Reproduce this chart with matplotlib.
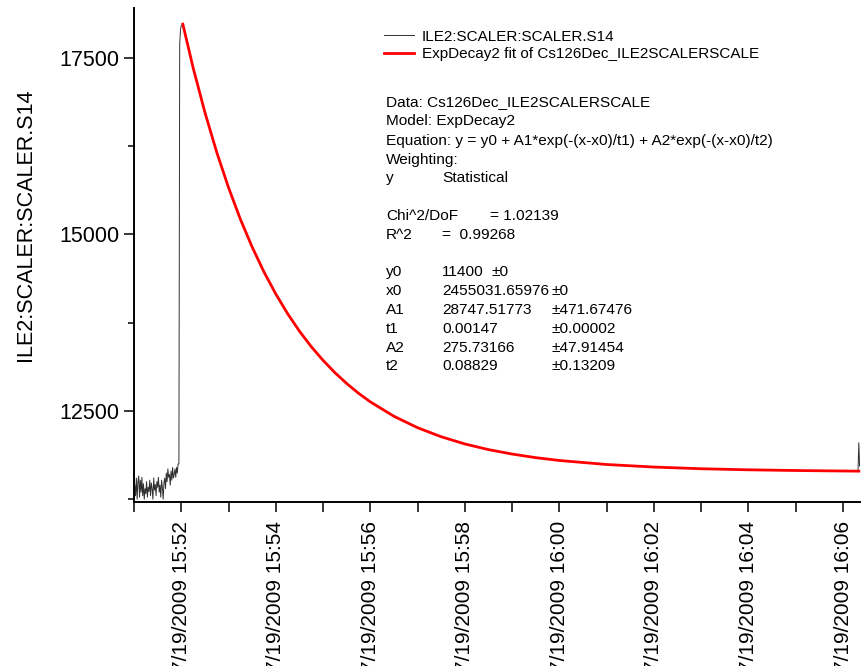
"""
Cs126 decay scaler trace with the ExpDecay2 fit overlaid
"""
import datetime as dt

import matplotlib
matplotlib.use('Agg')
import matplotlib.pyplot as plt
import matplotlib.dates as mdates
from matplotlib.ticker import FuncFormatter, FixedLocator

plt.rcParams['font.family'] = ['Liberation Sans', 'DejaVu Sans']

T0 = dt.datetime(2009, 7, 19, 15, 51, 0)

# raw scaler counts before the beam-on step, one reading per second from 15:51:01
noise_counts = [11450, 11300, 11550, 11250, 11500, 11580, 11280, 11520, 11350, 11560,
                11300, 11470, 11250, 11400, 11330, 11500, 11280, 11420, 11360, 11520,
                11300, 11480, 11400, 11250, 11550, 11380, 11460, 11300, 11500, 11420,
                11560, 11350, 11450, 11280, 11520, 11420, 11250, 11480, 11550, 11400,
                11620, 11500, 11680, 11560, 11600, 11450, 11650, 11520, 11700, 11550,
                11600, 11680, 11560, 11700, 11620, 11750]
# step up to the peak (seconds after 15:51:00)
step_sec = [57, 58, 59, 60]
step_counts = [11750, 17700, 17900, 17960]

# fit curve (seconds after 15:52:00)
fit_sec = [2, 15, 30, 45, 60, 75, 90, 105, 120, 135, 150, 165, 180, 195, 210, 225, 240,
           270, 300, 330, 360, 390, 420, 450, 480, 540, 600, 660, 720, 780, 840, 860]
fit_counts = [17979, 17364, 16729, 16165, 15664, 15217, 14822, 14469, 14157, 13878,
              13631, 13411, 13217, 13043, 12889, 12751, 12629, 12425, 12263, 12135,
              12033, 11953, 11890, 11839, 11799, 11742, 11706, 11682, 11667, 11657,
              11650, 11648]

# small jump right at the end of the record (seconds after 16:06:00)
tail_sec = [19, 20, 21]
tail_counts = [11648, 12050, 11720]

legend_labels = ['ILE2:SCALER:SCALER.S14', 'ExpDecay2 fit of Cs126Dec_ILE2SCALERSCALE']
ylabel = 'ILE2:SCALER:SCALER.S14'

info_lines = [
    (102, [(386, 'Data: Cs126Dec_ILE2SCALERSCALE')]),
    (121, [(386, 'Model: ExpDecay2')]),
    (141, [(386, 'Equation: y = y0 + A1*exp(-(x-x0)/t1) + A2*exp(-(x-x0)/t2)')]),
    (160, [(386, 'Weighting:')]),
    (178, [(386, 'y'), (442, 'Statistical')]),
    (216, [(386, 'Chi^2/DoF'), (490, '= 1.02139')]),
    (235, [(386, 'R^2'), (442, '=  0.99268')]),
    (272, [(386, 'y0'), (442, '11400'), (491, '\u00b10')]),
    (291, [(386, 'x0'), (442, '2455031.65976'), (552, '\u00b10')]),
    (310, [(386, 'A1'), (442, '28747.51773'), (552, '\u00b1471.67476')]),
    (329, [(386, 't1'), (442, '0.00147'), (552, '\u00b10.00002')]),
    (348, [(386, 'A2'), (442, '275.73166'), (552, '\u00b147.91454')]),
    (366, [(386, 't2'), (442, '0.08829'), (552, '\u00b10.13209')]),
]

W, H = 861, 666

# build time axes
noise_t = [T0 + dt.timedelta(seconds=i + 1) for i in range(len(noise_counts))]
step_t = [T0 + dt.timedelta(seconds=s) for s in step_sec]
fit_t = [T0 + dt.timedelta(minutes=1, seconds=s) for s in fit_sec]
tail_t = [T0 + dt.timedelta(minutes=15, seconds=s) for s in tail_sec]

data_t = noise_t + step_t + fit_t[:-1] + tail_t
data_y = noise_counts + step_counts + fit_counts[:-1] + tail_counts

fig = plt.figure(figsize=(W / 100, H / 100), dpi=100)
ax = fig.add_axes([134 / W, 164 / H, 1 - 134 / W, (502 - 8) / H])

ax.plot(data_t, data_y, c='#303030', lw=0.7, label=legend_labels[0])
ax.plot(fit_t, fit_counts, c='#ff0000', lw=2.0, label=legend_labels[1])

ax.set_xlim(T0, T0 + dt.timedelta(minutes=15, seconds=22.8))
ax.set_ylim(11211, 18208)

ax.spines['top'].set_visible(False)
ax.spines['right'].set_visible(False)
for s in ('left', 'bottom'):
    ax.spines[s].set_linewidth(1.4)

ax.xaxis.set_major_locator(mdates.MinuteLocator(byminute=range(0, 60, 2)))
ax.xaxis.set_minor_locator(mdates.MinuteLocator(byminute=range(1, 60, 2)))


def fmt_date(x, pos=None):
    d = mdates.num2date(x)
    return f"{d.month}/{d.day}/{d.year} {d:%H:%M}"


ax.xaxis.set_major_formatter(FuncFormatter(fmt_date))
ax.yaxis.set_major_locator(FixedLocator([12500, 15000, 17500]))
ax.yaxis.set_minor_locator(FixedLocator([11250, 13750, 16250]))

ax.tick_params(axis='x', which='both', direction='out', length=7.5, width=1.1,
               labelsize=15, labelrotation=90, pad=6)
ax.tick_params(axis='y', which='major', direction='out', length=7.5, width=1.1,
               labelsize=15.5, pad=3)
ax.tick_params(axis='y', which='minor', direction='out', length=4, width=1.1)

ax.set_ylabel(ylabel, fontsize=15.5)
ax.yaxis.set_label_coords((36 - 134) / (W - 134), (502 - 225) / 494)

ax.legend(loc='upper left', bbox_to_anchor=(376 / W, 1 - 22 / H),
          bbox_transform=fig.transFigure, frameon=False, fontsize=11,
          handlelength=2.0, handletextpad=0.5, labelspacing=0.25, borderpad=0)

for py, pieces in info_lines:
    for px, txt in pieces:
        fig.text(px / W, 1 - py / H, txt, fontsize=11.1, ha='left', va='center')

fig.savefig('out.png', dpi=100)
